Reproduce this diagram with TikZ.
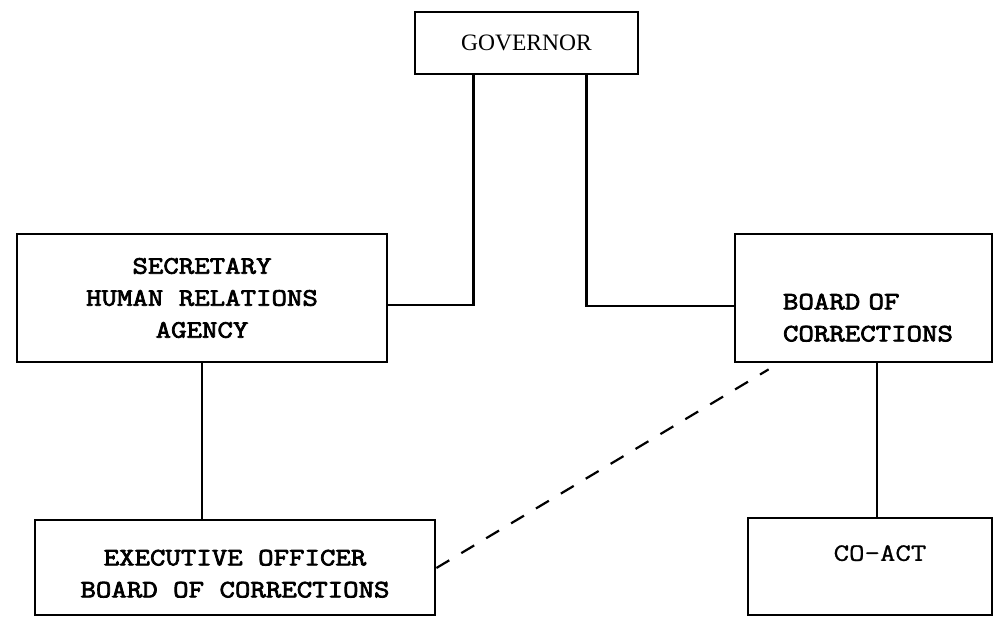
\documentclass[tikz,border=0pt]{standalone}
\usepackage{fontspec}
\setmainfont{Liberation Serif}
\newfontfamily\typed[FakeBold=3, FakeStretch=1.2]{Latin Modern Mono}
\newfontfamily\typedpale[FakeBold=1, FakeStretch=1.2]{Latin Modern Mono}
\usepackage{tikz}
\usetikzlibrary{calc, positioning}

\begin{document}
\begin{tikzpicture}[x=1pt, y=-1pt, office/.style={rectangle, draw, line width=2.8pt, inner sep=0pt, font=\typed\fontsize{25}{32}\selectfont, align=center}, link/.style={line width=2.8pt}, loose/.style={line width=2.2pt, dash pattern=on 15pt off 14pt}]
        \useasboundingbox (0,0) rectangle (1002,618);

        \node[office, minimum width=223pt, minimum height=62pt, font=\rmfamily\fontsize{23.5}{28}\selectfont] (gov) at (526.5,43) {GOVERNOR};
        \node[office, minimum width=370pt, minimum height=128pt] (sec) at (202,298) {SECRETARY\\HUMAN RELATIONS\\AGENCY};
        \node[office, minimum width=257pt, minimum height=128pt, text width=161pt, inner xsep=48pt, align=left] (board) at (863.5,298) {\rule{0pt}{55pt}BOARD OF\\CORRECTIONS};
        \node[office, minimum width=400pt, minimum height=95pt] (exec) at (235,567.5) {\rule{0pt}{28pt}EXECUTIVE OFFICER\\BOARD OF CORRECTIONS};
        \node[office, minimum width=244pt, minimum height=97pt, font=\typedpale\fontsize{25}{32}\selectfont] (coact) at (870,566.5) {\hspace*{20pt}\rule[-27pt]{0pt}{27pt}CO-ACT};

        \coordinate (govL) at ($(gov.south west)+(60,0)$);
        \coordinate (govR) at ($(gov.south east)+(-53,0)$);
        \coordinate (boardS) at ($(board.south)+(13.5,0)$);

        \draw[link] (govL) |- ([yshift=-7pt]sec.east);
        \draw[link] (govR) |- ([yshift=-8pt]board.west);
        \draw[link] (sec.south) -- (sec.south |- exec.north);
        \draw[link] (boardS) -- (boardS |- coact.north);
        \draw[loose] ([yshift=-0.5pt]exec.east) -- ($(board.south west)+(35,6)$);
    \end{tikzpicture}
\end{document}
